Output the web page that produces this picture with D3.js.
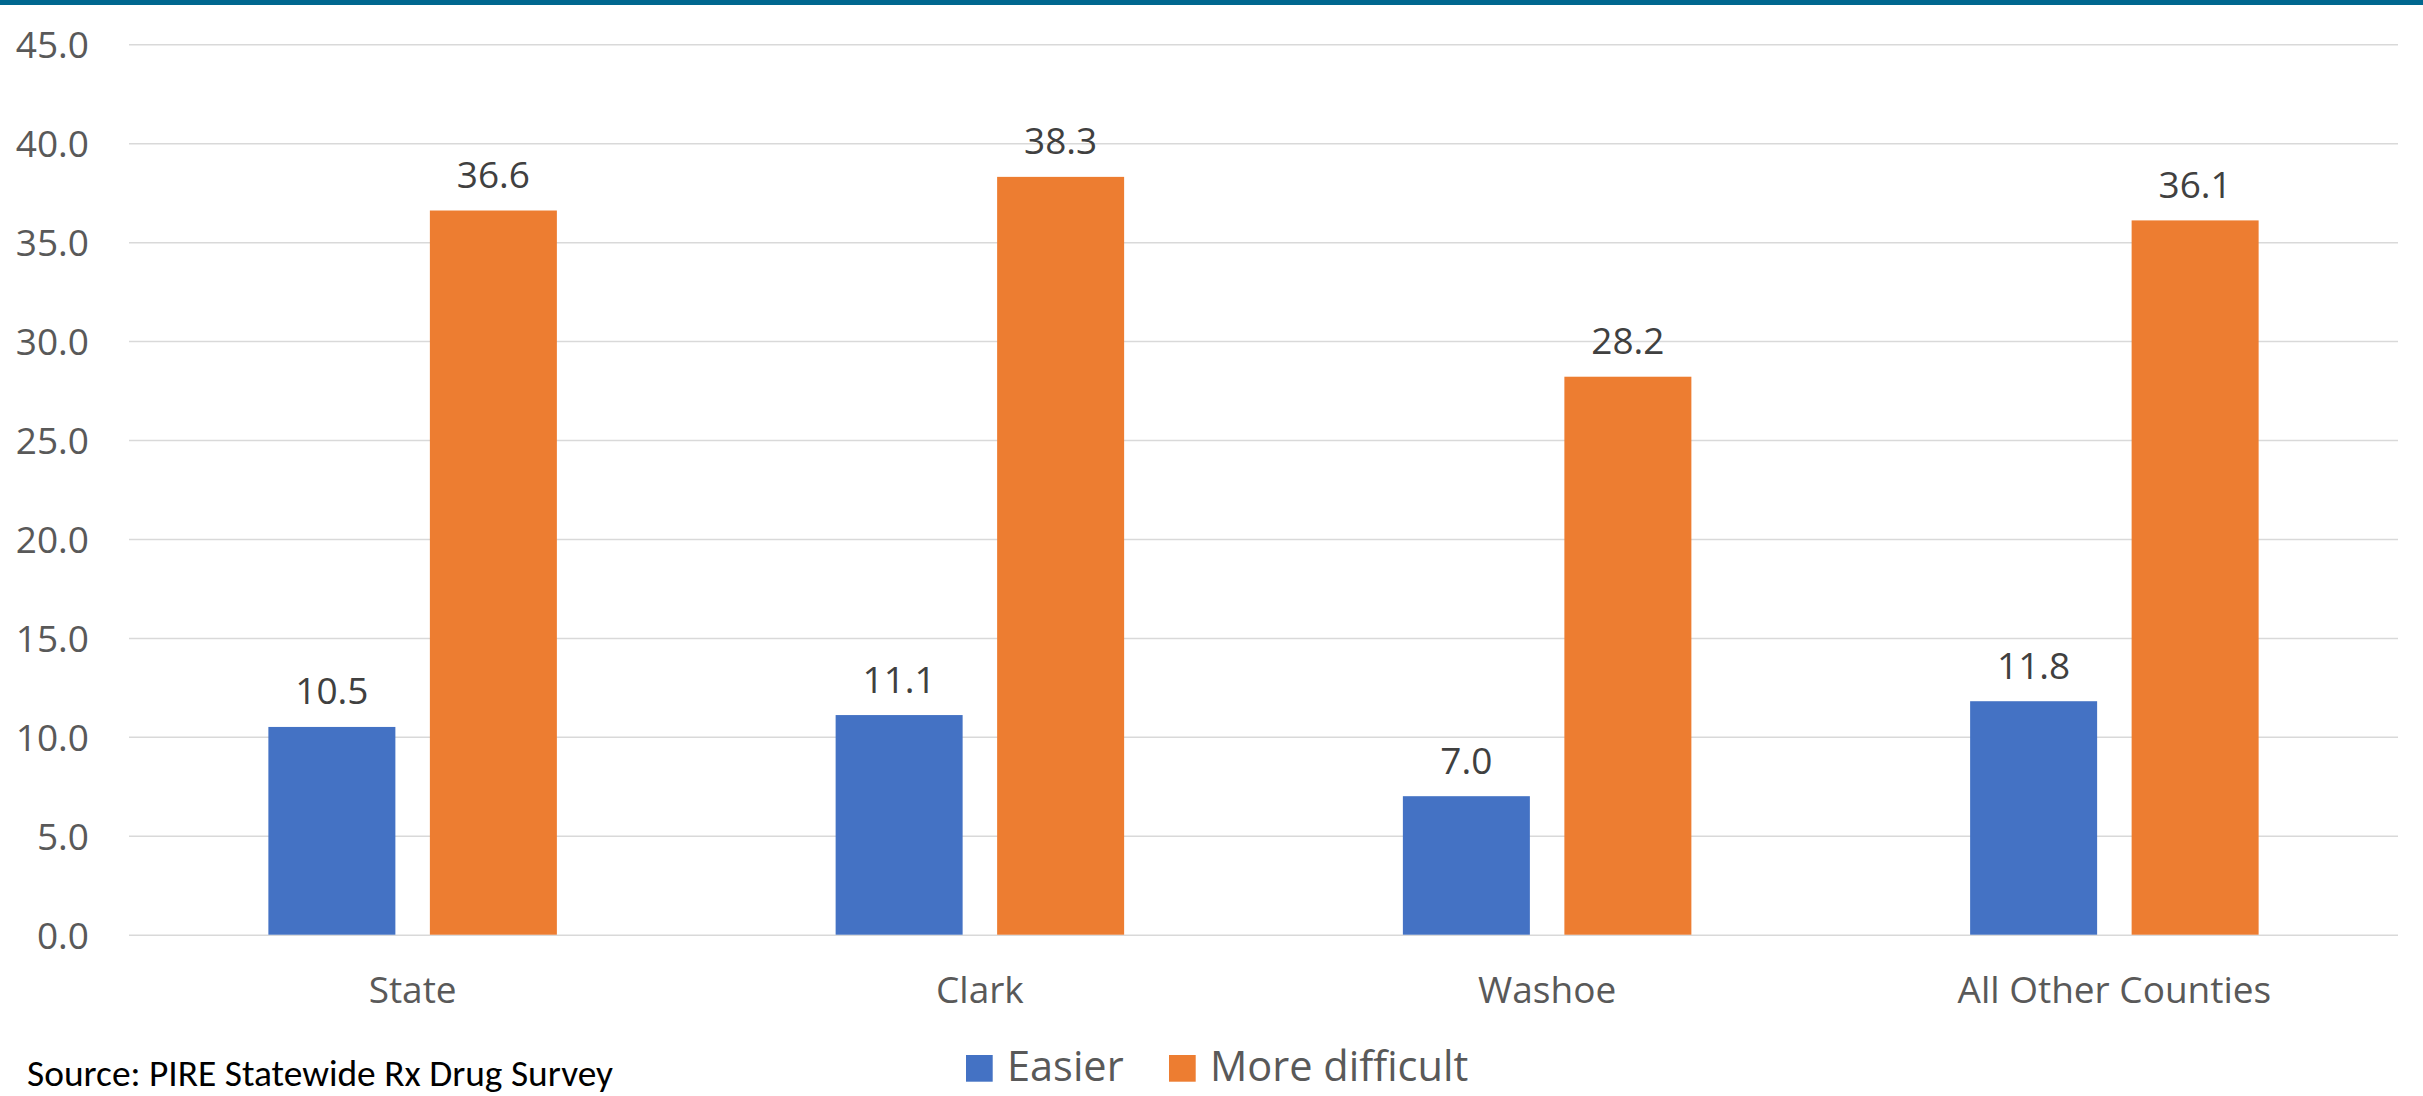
<!DOCTYPE html>
<html>
<head>
<meta charset="utf-8">
<script src="https://cdn.jsdelivr.net/npm/d3@7"></script>
<style>
  html, body { margin: 0; padding: 0; background: #ffffff; }
  svg { display: block; }
</style>
</head>
<body>
<svg id="chart" width="2423" height="1096"></svg>
<script>
// Grouped bar chart: perceived difficulty of obtaining prescription drugs by region
const categories = ["State", "Clark", "Washoe", "All Other Counties"];
const seriesNames = ["Easier", "More difficult"];
const easierValues = [10.5, 11.1, 7.0, 11.8];
const moreDifficultValues = [36.6, 38.3, 28.2, 36.1];
const yTicks = [0, 5, 10, 15, 20, 25, 30, 35, 40, 45];
const sourceNote = "Source: PIRE Statewide Rx Drug Survey";

const seriesColors = { "Easier": "#4472c4", "More difficult": "#ed7d31" };
const seriesValues = { "Easier": easierValues, "More difficult": moreDifficultValues };

const W = 2423, H = 1096;
const plot = { left: 129, right: 2398, top: 44.3, bottom: 934.7 };
const uiFont = "'Open Sans', 'Noto Sans', 'DejaVu Sans', sans-serif";

const svg = d3.select("#chart");

// Header band along the top edge
svg.append("rect")
  .attr("x", 0).attr("y", 0)
  .attr("width", W).attr("height", 5)
  .attr("fill", "#00678f");

const y = d3.scaleLinear().domain([0, 45]).range([plot.bottom, plot.top]);

const x0 = d3.scaleBand()
  .domain(categories)
  .range([plot.left, plot.right])
  .paddingInner(0.4914)
  .paddingOuter(0.2457);

const x1 = d3.scaleBand()
  .domain(seriesNames)
  .range([0, x0.bandwidth()])
  .paddingInner(0.2136)
  .paddingOuter(0);

// Horizontal gridlines
const yAxis = d3.axisLeft(y)
  .tickValues(yTicks)
  .tickSize(-(plot.right - plot.left))
  .tickPadding(40)
  .tickFormat(d3.format(".1f"));

const gy = svg.append("g")
  .attr("transform", `translate(${plot.left},0)`)
  .call(yAxis);
gy.select(".domain").remove();
gy.selectAll(".tick line")
  .attr("stroke", "#d9d9d9")
  .attr("stroke-width", 1.5);
gy.selectAll(".tick text")
  .attr("x", 89 - plot.left)
  .attr("dy", "0.365em")
  .attr("text-anchor", "end")
  .attr("fill", "#595959")
  .style("font-family", uiFont)
  .style("font-size", "37px");

// Category labels under the groups
const xAxis = d3.axisBottom(x0).tickSize(0).tickPadding(0);
const gx = svg.append("g")
  .attr("transform", `translate(0,${plot.bottom})`)
  .call(xAxis);
gx.select(".domain").remove();
gx.selectAll(".tick text")
  .attr("y", 1003.3 - plot.bottom)
  .attr("dy", 0)
  .attr("fill", "#595959")
  .style("font-family", uiFont)
  .style("font-size", "37px");

// Bars
const rows = categories.map((c, i) => ({
  category: c,
  values: seriesNames.map(s => ({ series: s, value: seriesValues[s][i] }))
}));

const groups = svg.append("g").selectAll("g")
  .data(rows)
  .join("g")
  .attr("transform", d => `translate(${x0(d.category)},0)`);

groups.selectAll("rect")
  .data(d => d.values)
  .join("rect")
  .attr("x", d => x1(d.series))
  .attr("y", d => y(d.value))
  .attr("width", x1.bandwidth())
  .attr("height", d => y(0) - y(d.value))
  .attr("fill", d => seriesColors[d.series]);

// Value labels above bars
groups.selectAll("text.value")
  .data(d => d.values)
  .join("text")
  .attr("class", "value")
  .attr("x", d => x1(d.series) + x1.bandwidth() / 2)
  .attr("y", d => y(d.value) - 22.5)
  .attr("text-anchor", "middle")
  .attr("fill", "#404040")
  .style("font-family", uiFont)
  .style("font-size", "37px")
  .text(d => d3.format(".1f")(d.value));

// Legend
const legendItems = [
  { name: seriesNames[0], sx: 966, tx: 1007 },
  { name: seriesNames[1], sx: 1169, tx: 1210 }
];
const legend = svg.append("g");
legend.selectAll("rect")
  .data(legendItems)
  .join("rect")
  .attr("x", d => d.sx)
  .attr("y", 1055)
  .attr("width", 26.7)
  .attr("height", 26.7)
  .attr("fill", d => seriesColors[d.name]);
legend.selectAll("text")
  .data(legendItems)
  .join("text")
  .attr("x", d => d.tx)
  .attr("y", 1081)
  .attr("fill", "#595959")
  .style("font-family", uiFont)
  .style("font-size", "41.5px")
  .text(d => d.name);

// Source note
svg.append("text")
  .attr("x", 27)
  .attr("y", 1086)
  .attr("fill", "#000000")
  .attr("textLength", 586)
  .attr("lengthAdjust", "spacingAndGlyphs")
  .style("font-family", "Carlito, 'Liberation Sans Narrow', 'Open Sans', sans-serif")
  .style("font-size", "37px")
  .text(sourceNote);
</script>
</body>
</html>
